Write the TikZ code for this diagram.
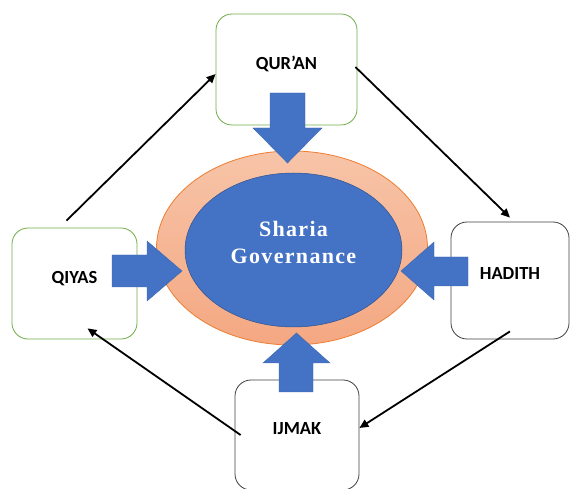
\documentclass[tikz,border=0pt]{standalone}
\usepackage{fontspec}
\newfontfamily\boxfont{Carlito}
\newfontfamily\titlefont[LetterSpace=6]{Liberation Serif}
\usepackage{xcolor}
\definecolor{OfficeBlue}{HTML}{4472C4}
\definecolor{OfficeBlueDark}{HTML}{2F528F}
\definecolor{OfficeOrange}{HTML}{ED7D31}
\definecolor{PeachTop}{HTML}{F7C4A8}
\definecolor{PeachBottom}{HTML}{F4A882}
\definecolor{OfficeGreen}{HTML}{70AD47}
\definecolor{BoxGrey}{HTML}{404040}
\usepackage{tikz}
\usetikzlibrary{arrows.meta, shapes.geometric}

\tikzset{
	source/.style={draw, line width=0.8pt, rounded corners=16pt, fill=white, text=black, inner sep=0pt, text depth=13pt, font=\boxfont\bfseries\fontsize{18.5}{20}\selectfont},
	bigarrow/.style={fill=OfficeBlue, draw=OfficeBlue!90!black, line width=0.4pt},
	link/.style={line width=1.8pt, -{Triangle[length=9pt, width=8pt]}}
}

\begin{document}
\begin{tikzpicture}[x=1pt, y=-1pt]
			\useasboundingbox (0, 0) rectangle (571, 489);
			\node[ellipse, draw=OfficeOrange, line width=0.8pt, top color=PeachTop, bottom color=PeachBottom, minimum width=271pt, minimum height=194pt] (ring) at (292, 248) {};
			\node[ellipse, draw=OfficeBlueDark, line width=0.5pt, fill=OfficeBlue, minimum width=217pt, minimum height=154pt] (core) at (293.5, 250) {};
			\node[text=white, align=center, font=\titlefont\bfseries\fontsize{22}{27}\selectfont] (title) at ([yshift=8pt]core.center) {Sharia\\Governance};
			\node[source, draw=OfficeGreen, minimum width=141pt, minimum height=111pt] (quran) at (286.5, 69.5) {QUR’AN};
			\node[source, draw=OfficeGreen, minimum width=125pt, minimum height=111pt] (qiyas) at (74.5, 283.5) {QIYAS};
			\node[source, draw=BoxGrey, minimum width=118pt, minimum height=117pt] (hadith) at (510, 280.5) {HADITH};
			\node[source, draw=BoxGrey, minimum width=124pt, minimum height=110pt] (ijmak) at (297, 435) {IJMAK};
			\fill[bigarrow] (270, 93) -- (305, 93) -- (305, 128) -- (322, 128) -- (287.5, 163) -- (253, 128) -- (270, 128) -- cycle;
			\fill[bigarrow] (112, 255) -- (147, 255) -- (147, 241) -- (182, 271) -- (147, 301) -- (147, 287) -- (112, 287) -- cycle;
			\fill[bigarrow] (468, 257) -- (434, 257) -- (434, 242) -- (401, 271) -- (434, 300) -- (434, 286) -- (468, 286) -- cycle;
			\fill[bigarrow] (279, 392) -- (279, 363) -- (263, 363) -- (296.5, 333) -- (330, 363) -- (313, 363) -- (313, 392) -- cycle;
			\draw[link] ([xshift=-8pt, yshift=7pt]qiyas.north) -- ([yshift=-4.5pt]quran.west);
			\draw[link] ([xshift=-2pt, yshift=2.5pt]quran.east) -- ([yshift=4pt]hadith.north);
			\draw[link] ([yshift=8pt]hadith.south) -- ([yshift=7pt]ijmak.east);
			\draw[link] ([xshift=6pt]ijmak.west) -- ([xshift=13pt, yshift=11pt]qiyas.south);
			\end{tikzpicture}
\end{document}
